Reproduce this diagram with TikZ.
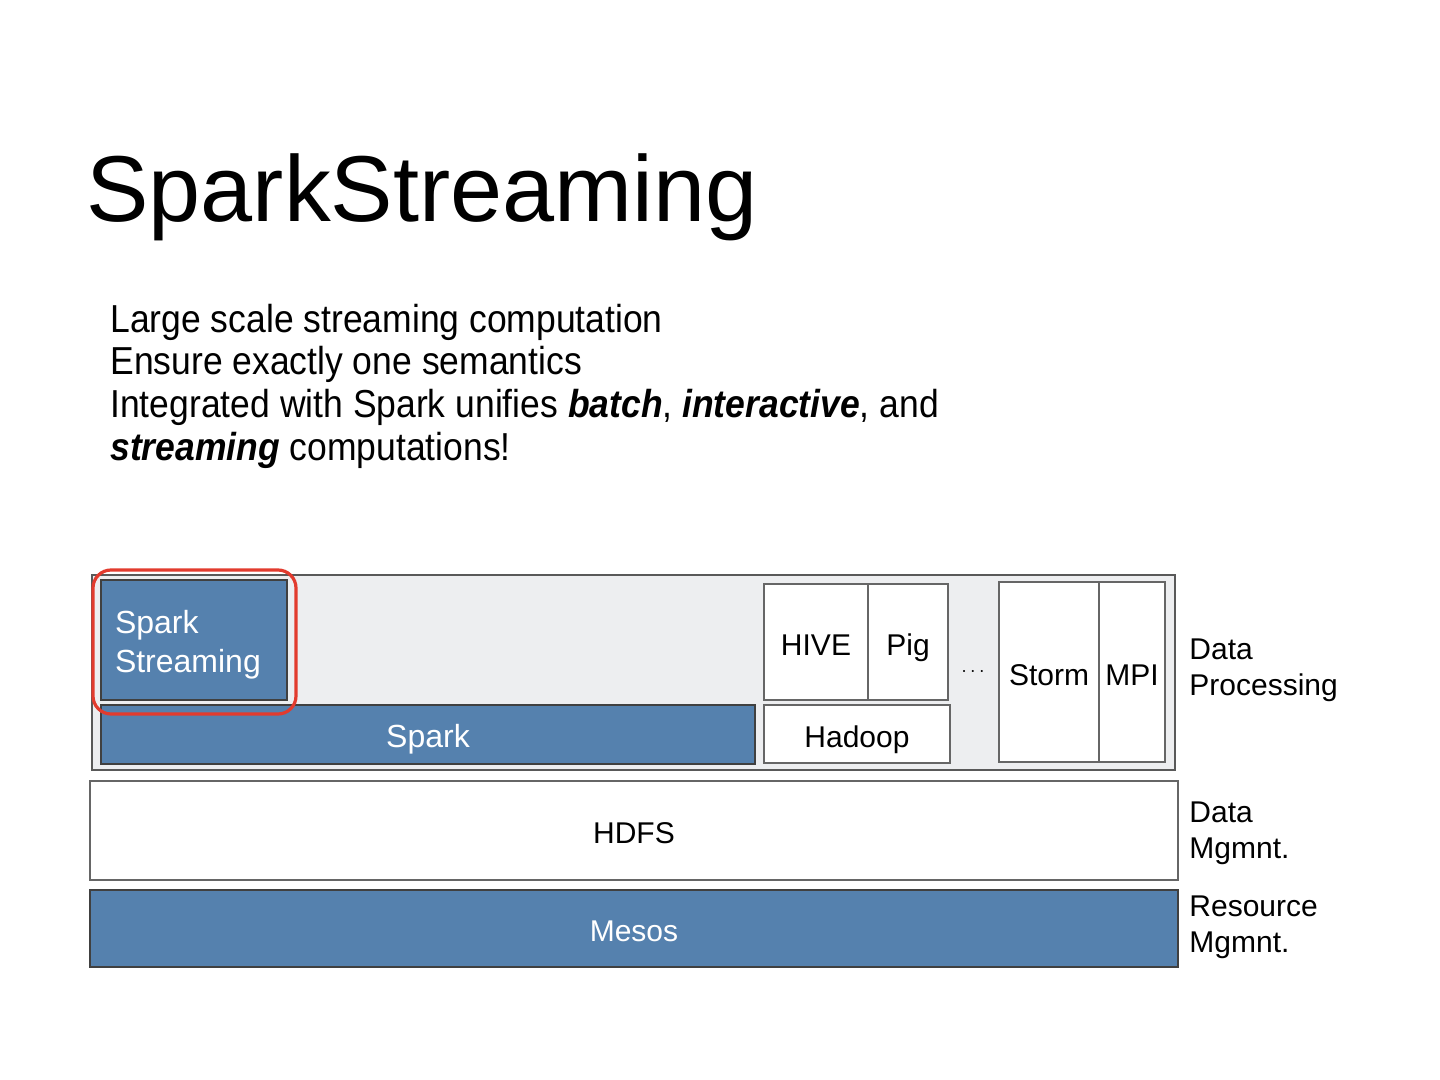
\documentclass[tikz,border=0pt]{standalone}
\usepackage{fontspec}
\setmainfont{Liberation Sans}
\newfontfamily\bodyfont{Liberation Sans}[FakeStretch=0.91]
\definecolor{stackblue}{HTML}{5581AE}
\definecolor{stackgray}{HTML}{EDEEF0}
\definecolor{markred}{HTML}{E23B2E}
\tikzset{
  layer/.style={draw=black!60, line width=0.6pt, inner sep=0pt, font=\fontsize{15}{18}\selectfont},
  oneline/.style={text height=13pt, text depth=0pt},
  bluelayer/.style={layer, oneline, fill=stackblue, text=white, draw=black!75, font=\fontsize{16}{19.5}\selectfont},
  whitelayer/.style={layer, oneline, fill=white},
  sidelabel/.style={anchor=west, align=left, inner sep=0pt, font=\fontsize{15}{18}\selectfont},
  bodyline/.style={anchor=base west, inner sep=0pt, font=\bodyfont\fontsize{19.5}{23}\selectfont},
}
\begin{document}
\begin{tikzpicture}[x=0.5pt,y=-0.5pt]
\useasboundingbox (0,0) rectangle (1440,1080);

% title and bullet text
\node[anchor=base west, inner sep=0pt, font=\fontsize{46.8}{50}\selectfont] (title) at (86,222) {SparkStreaming};
\node[bodyline] (line1) at (110,333) {Large scale streaming computation};
\node[bodyline] (line2) at (110,375) {Ensure exactly one semantics};
\node[bodyline] (line3) at (110,418) {Integrated with Spark unifies \textbf{\textit{batch}}, \textbf{\textit{interactive}}, and};
\node[bodyline] (line4) at (110,460) {\textbf{\textit{streaming}} computations!};

% data processing layer
\node[layer, fill=stackgray, draw=black!65, line width=0.9pt, minimum width=541.5pt, minimum height=97.5pt] (proc) at (633.5,672.5) {};
\node[bluelayer, minimum width=93pt, minimum height=60pt] (sstreambox) at (194,640) {};
\node[text=white, font=\fontsize{16}{19.5}\selectfont, inner sep=0pt, text width=79pt, align=left] (sstream) at (194,645) {Spark\\Streaming};
\node[bluelayer, minimum width=327pt, minimum height=29.5pt] (spark) at (428,734.5) {Spark};
\node[whitelayer, minimum width=52pt, minimum height=58pt] (hive) at (816,642) {HIVE};
\node[whitelayer, minimum width=40pt, minimum height=58pt] (pig) at (908,642) {Pig};
\node[whitelayer, minimum width=93pt, minimum height=29pt] (hadoop) at (857,734) {Hadoop};
\node[inner sep=0pt] (dots) at (973,672) {$\cdots$};
\node[whitelayer, minimum width=50pt, minimum height=90pt] (storm) at (1049,672) {Storm};
\node[whitelayer, minimum width=33pt, minimum height=90pt] (mpi) at (1132,672) {MPI};

% highlight
\node[draw=markred, line width=1.6pt, rounded corners=9pt, minimum width=101.5pt, minimum height=72pt, inner sep=0pt] (mark) at (194.5,642) {};

% lower layers
\node[whitelayer, minimum width=544pt, minimum height=49.5pt] (hdfs) at (634,830.5) {HDFS};
\node[bluelayer, font=\fontsize{15}{18}\selectfont, minimum width=544pt, minimum height=38.5pt] (mesos) at (634,928.5) {Mesos};

% side labels
\node[sidelabel] (proclabel) at (1189,670) {Data\\Processing};
\node[sidelabel] (datalabel) at (1189,833) {Data\\Mgmnt.};
\node[sidelabel] (reslabel) at (1189,927) {Resource\\Mgmnt.};
\end{tikzpicture}
\end{document}
